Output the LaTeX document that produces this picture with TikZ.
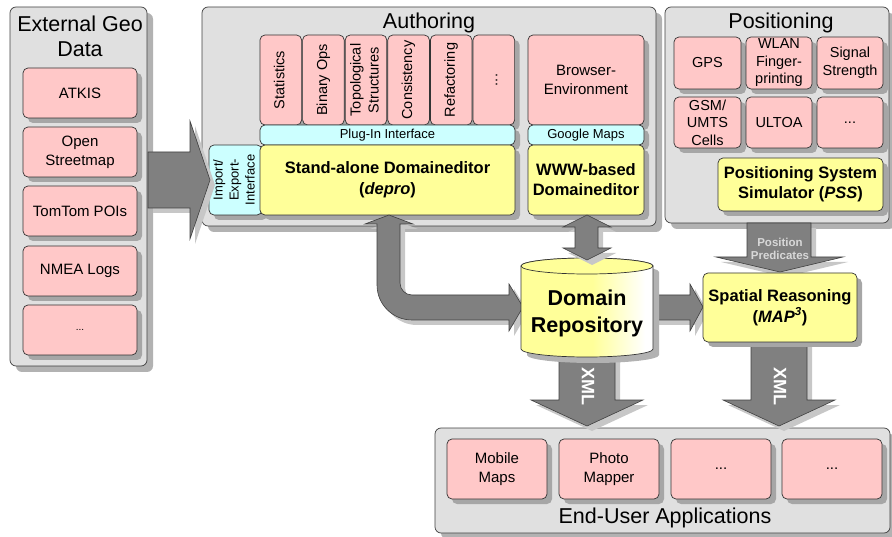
\documentclass[tikz,border=0pt]{standalone}
\usepackage{fontspec}
\setmainfont{Liberation Sans}
\usepackage{graphicx}
\usetikzlibrary{shadows}
\definecolor{cgray}{HTML}{E0E0E0}
\definecolor{pinkc}{HTML}{FFC8C8}
\definecolor{cyanc}{HTML}{CCFFFF}
\definecolor{yelc}{HTML}{FFFF99}
\definecolor{arrc}{HTML}{808080}
\definecolor{pptext}{HTML}{D8D8D8}
\pgfdeclarehorizontalshading{cylsh}{100bp}{color(0bp)=(yelc); color(25bp)=(yelc); color(52bp)=(yelc); color(72bp)=(white); color(100bp)=(white)}
\newcommand\vtxt[1]{\rotatebox{90}{\begin{tabular}{@{}c@{}}#1\end{tabular}}}
\begin{document}
\begin{tikzpicture}[x=1pt,y=-1pt,
 cont/.style={draw=black!75, line width=0.7pt, fill=cgray, rounded corners=6pt, inner sep=0pt,
   drop shadow={shadow xshift=6pt, shadow yshift=-6pt, fill=black!30, opacity=1}},
 box/.style={draw=black!80, line width=0.7pt, rounded corners=5pt, inner sep=1pt, align=center,
   drop shadow={shadow xshift=5pt, shadow yshift=-5pt, fill=black!35, opacity=1}},
 pinkb/.style={box, fill=pinkc, font=\fontsize{15}{19}\selectfont},
 plugb/.style={box, fill=pinkc, font=\fontsize{14.5}{18}\selectfont, minimum width=41.6, minimum height=90},
 posb/.style={box, fill=pinkc, font=\fontsize{14.5}{17.5}\selectfont},
 cyanb/.style={box, fill=cyanc, font=\fontsize{13}{16}\selectfont},
 yelb/.style={box, fill=yelc, font=\bfseries\fontsize{16.5}{20}\selectfont},
 titl/.style={font=\fontsize{21.5}{25}\selectfont, align=center, inner sep=0pt},
 barrow/.style={fill=arrc, draw=black!75, line width=0.6pt,
   drop shadow={shadow xshift=5pt, shadow yshift=-5pt, fill=black!22, opacity=1}},
 xmltext/.style={font=\bfseries\fontsize{18}{20}\selectfont, text=white, inner sep=0pt},
]
\useasboundingbox (0,0) rectangle (892,537);

% ---------- containers ----------
\node[cont, minimum width=137, minimum height=359] (ext) at (78.5,186.5) {};
\node[cont, minimum width=454, minimum height=219] (auth) at (429,116.5) {};
\node[cont, minimum width=224, minimum height=216] (pos) at (777,115) {};
\node[cont, minimum width=455, minimum height=105] (apps) at (662.5,480.5) {};

% ---------- External Geo Data ----------
\node[titl] (exttitle) at (80,36.5) {External Geo\\Data};
\node[pinkb, minimum width=114, minimum height=50] (atkis) at (80,93) {ATKIS};
\node[pinkb, minimum width=114, minimum height=50] (osm) at (80,152) {Open\\Streetmap};
\node[pinkb, minimum width=114, minimum height=50] (tomtom) at (80,211) {TomTom POIs};
\node[pinkb, minimum width=114, minimum height=50] (nmea) at (80,271) {NMEA Logs};
\node[pinkb, minimum width=114, minimum height=50] (extdots) at (80,330) {\fontsize{10}{12}\selectfont ...};

% ---------- Authoring ----------
\node[titl] (authtitle) at (429,23) {Authoring};
\node[plugb] (p1) at (280.8,80) {\vtxt{Statistics}};
\node[plugb] (p2) at (323.4,80) {\vtxt{Binary Ops}};
\node[plugb] (p3) at (366,80) {\vtxt{Topological\\Structures}};
\node[plugb] (p4) at (408.6,80) {\vtxt{Consistency}};
\node[plugb] (p5) at (451.2,80) {\vtxt{Refactoring}};
\node[plugb] (p6) at (493.8,80) {\vtxt{...}};
\node[cyanb, minimum width=255, minimum height=20] (plugif) at (387.5,135) {Plug-In Interface};
\node[cyanb, minimum width=53, minimum height=70] (imp) at (235.5,180) {\vtxt{Import/\\Export-\\Interface}};
\node[yelb, minimum width=255, minimum height=70] (sade) at (387.5,180) {Stand-alone Domaineditor\\[1pt](\textit{depro})};
\node[pinkb, minimum width=116, minimum height=90] (browser) at (586,80) {Browser-\\Environment};
\node[cyanb, minimum width=116, minimum height=20] (gmaps) at (586,135) {Google Maps};
\node[yelb, minimum width=116, minimum height=70] (www) at (586,180) {WWW-based\\Domaineditor};

% ---------- Positioning ----------
\node[titl] (postitle) at (781,23) {Positioning};
\node[posb, minimum width=67, minimum height=52] (gps) at (707.5,63) {GPS};
\node[posb, minimum width=66, minimum height=52] (wlan) at (779,63) {WLAN\\Finger-\\printing};
\node[posb, minimum width=66, minimum height=52] (signal) at (850,63) {Signal\\Strength};
\node[posb, minimum width=67, minimum height=51] (gsm) at (707.5,122.5) {GSM/\\UMTS\\Cells};
\node[posb, minimum width=66, minimum height=51] (ultoa) at (779,122.5) {ULTOA};
\node[posb, minimum width=66, minimum height=51] (posdots) at (850,122.5) {...};
\node[yelb, minimum width=165, minimum height=53] (pss) at (800.5,184.5) {Positioning System\\Simulator (\textit{PSS})};

% ---------- End-User Applications ----------
\node[pinkb, minimum width=100, minimum height=60] (mobile) at (497,469) {Mobile\\Maps};
\node[pinkb, minimum width=100, minimum height=60] (photo) at (609,469) {Photo\\Mapper};
\node[pinkb, minimum width=100, minimum height=60] (appdots1) at (721,469) {...};
\node[pinkb, minimum width=100, minimum height=60] (appdots2) at (832,469) {...};
\node[titl] (appstitle) at (665,518) {End-User Applications};

% ---------- block arrows ----------
\path[barrow] (148,152) -- (190,152) -- (190,121) -- (210,180) -- (190,239) -- (190,208) -- (148,208) -- cycle;
\path[barrow] (389,215) -- (413,224) -- (400,224) -- (400,283) arc[start angle=180, end angle=90, radius=12]
  -- (509,295) -- (509,284) -- (523,307) -- (509,331) -- (509,320) -- (412,320)
  arc[start angle=90, end angle=180, radius=35] -- (377,224) -- (365,224) -- cycle;
\path[barrow] (640,295) -- (690,295) -- (690,284) -- (703,307) -- (690,331) -- (690,320) -- (640,320) -- cycle;
\path[barrow] (559,345) -- (615,345) -- (615,400) -- (643,400) -- (587,426) -- (531,400) -- (559,400) -- cycle;

% ---------- Domain Repository (cylinder) ----------
\fill[black!30] (527,272) -- (527,355) arc[start angle=180, end angle=0, x radius=66, y radius=8]
  -- (659,272) arc[start angle=0, end angle=-180, x radius=66, y radius=8] -- cycle;
\path[shade, shading=cylsh, draw=black!80, line width=0.7pt] (521,266) -- (521,349) arc[start angle=180, end angle=0, x radius=66, y radius=8]
  -- (653,266) arc[start angle=0, end angle=-180, x radius=66, y radius=8] -- cycle;
\draw[fill=yelc, draw=black!80, line width=0.7pt] (587,266) ellipse[x radius=66, y radius=8];
\node[font=\bfseries\fontsize{21.5}{27}\selectfont, align=center] (repo) at (587,313) {Domain\\Repository};

\path[barrow] (587,215) -- (611,227) -- (598,227) -- (598,248) -- (611,248) -- (587,260) -- (563,248) -- (575,248) -- (575,227) -- (563,227) -- cycle;
\path[barrow] (747,223) -- (811,223) -- (811,257) -- (843,257) -- (780,272) -- (716,257) -- (747,257) -- cycle;
\path[barrow] (751,340) -- (807,340) -- (807,400) -- (835,400) -- (779,426) -- (723,400) -- (751,400) -- cycle;

% ---------- Spatial Reasoning ----------
\node[yelb, minimum width=154, minimum height=69, font=\bfseries\fontsize{16.5}{21}\selectfont] (spatial) at (780,307.5) {Spatial Reasoning\\(\textit{MAP\textsuperscript{3}})};

% ---------- arrow labels ----------
\node[font=\bfseries\fontsize{11.5}{13}\selectfont, text=pptext, align=center, inner sep=0pt] (pplabel) at (780,248.5) {Position\\Predicates};
\node[xmltext, rotate=-90] (xml1) at (588,386) {XML};
\node[xmltext, rotate=-90] (xml2) at (780,386) {XML};
\end{tikzpicture}
\end{document}
